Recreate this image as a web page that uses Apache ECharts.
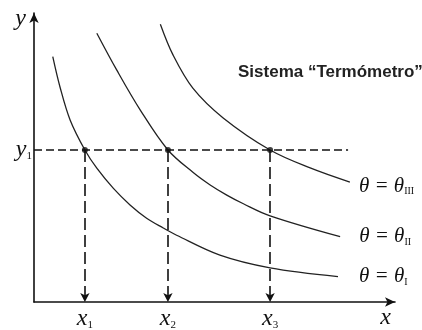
<!DOCTYPE html>
<html>
<head>
<meta charset="utf-8">
<script src="https://cdn.jsdelivr.net/npm/echarts@6/dist/echarts.min.js"></script>
<style>html,body{margin:0;padding:0;background:#fff}#c{width:422px;height:330px}</style>
</head>
<body>
<div id="c"></div>
<script>
// ---- data (abstract units, x and y both 0..10) ----
const xTickValues = [1.41, 3.71, 6.54];
const xTickSubs = ['1', '2', '3'];
const y1Value = 5.26;
const y1Sub = '1';
const dashEndX = 8.70;
const curveI = [[0.52,8.49],[0.72,7.44],[1.00,6.30],[1.41,5.26],[1.74,4.63],[2.20,3.93],[2.66,3.36],[3.12,2.90],[3.58,2.56],[3.95,2.31],[5.15,1.62],[6.54,1.18],[8.42,0.88]];
const curveII = [[1.74,9.30],[2.29,8.03],[2.94,6.65],[3.71,5.26],[4.41,4.48],[4.88,4.05],[5.34,3.70],[5.80,3.40],[6.54,2.98],[8.48,2.26]];
const curveIII = [[3.50,9.61],[3.85,8.55],[4.40,7.40],[5.24,6.37],[6.54,5.26],[7.65,4.64],[8.75,4.15]];
const curveSubs = ['I', 'II', 'III'];
const titleText = 'Sistema “Termómetro”';

const ink = '#111';
const serif = "'Liberation Serif','DejaVu Serif',serif";
const rich = {
  v: {fontFamily: serif, fontStyle: 'italic', fontSize: 24, color: ink},
  s: {fontFamily: serif, fontSize: 11, color: ink, verticalAlign: 'bottom', lineHeight: 12}
};
const thetaRich = {
  t: {fontFamily: serif, fontStyle: 'italic', fontSize: 21, color: ink},
  s: {fontFamily: serif, fontSize: 10, color: ink, verticalAlign: 'bottom', lineHeight: 10}
};

function curveSeries(data, sub, dist, dy) {
  return {
    type: 'line', data: data, smooth: 0.35, symbol: 'none',
    lineStyle: {color: '#222', width: 1.3},
    endLabel: {show: true, distance: dist, offset: [0, dy], formatter: () => '{t|θ = θ}{s|' + sub + '}', rich: thetaRich},
    z: 3
  };
}

const chart = echarts.init(document.getElementById('c'), null, {renderer: 'canvas'});
chart.setOption({
  animation: false,
  backgroundColor: '#fff',
  title: {text: titleText, left: 233, top: 59,
    textStyle: {fontFamily: "'Liberation Sans',Arial,sans-serif", fontSize: 17, fontWeight: 'bold', color: '#222'}},
  grid: {left: 34, right: 27, top: 13, bottom: 28, containLabel: false, outerBoundsMode: 'none'},
  xAxis: {
    type: 'value', min: 0, max: 10,
    name: 'x', nameLocation: 'end', nameGap: -4,
    nameTextStyle: {fontFamily: serif, fontStyle: 'italic', fontSize: 24, color: ink, align: 'right', verticalAlign: 'top', padding: [4, 0, 0, 0]},
    axisLine: {show: true, symbol: ['none', 'arrow'], symbolSize: [7, 10], lineStyle: {color: ink, width: 1.6}},
    axisTick: {show: false},
    splitLine: {show: false},
    axisLabel: {show: true, customValues: xTickValues, margin: 5,
      formatter: (val) => { const i = xTickValues.indexOf(val); return '{v|x}{s|' + xTickSubs[i] + '}'; }, rich: rich}
  },
  yAxis: {
    type: 'value', min: 0, max: 10,
    name: 'y', nameLocation: 'end', nameGap: -18,
    nameTextStyle: {fontFamily: serif, fontStyle: 'italic', fontSize: 24, color: ink, align: 'right', padding: [0, 8, 0, 0]},
    axisLine: {show: true, symbol: ['none', 'arrow'], symbolSize: [7, 10], lineStyle: {color: ink, width: 1.6}},
    axisTick: {show: false},
    splitLine: {show: false},
    axisLabel: {show: true, customValues: [y1Value], margin: 2,
      formatter: () => '{v|y}{s|' + y1Sub + '}', rich: rich}
  },
  series: [
    curveSeries(curveI, curveSubs[0], 21, 0),
    curveSeries(curveII, curveSubs[1], 19, 0),
    curveSeries(curveIII, curveSubs[2], 9, 4),
    {
      type: 'scatter', symbol: 'circle', symbolSize: 6, itemStyle: {color: ink}, z: 5,
      data: xTickValues.map(x => [x, y1Value]),
      markLine: {
        silent: true, animation: false,
        label: {show: false},
        lineStyle: {color: ink, width: 1.6, type: [8, 4]},
        symbolSize: [7, 9],
        data: [
          [{coord: [0, y1Value], symbol: 'none'}, {coord: [dashEndX, y1Value], symbol: 'none'}]
        ].concat(xTickValues.map(x => [
          {coord: [x, y1Value], symbol: 'none', lineStyle: {type: [12, 5]}},
          {coord: [x, 0], symbol: 'arrow'}
        ]))
      }
    }
  ]
});
</script>
</body>
</html>
